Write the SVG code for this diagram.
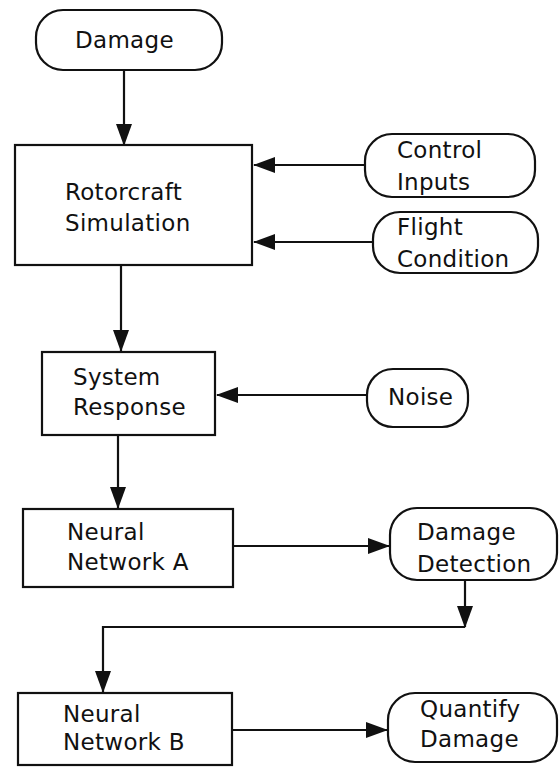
<svg xmlns="http://www.w3.org/2000/svg" width="560" height="767" viewBox="0 0 560 767">
<style>
.box{fill:#fff;stroke:#111;stroke-width:2.2}
.pill{fill:#fff;stroke:#111;stroke-width:2.2}
.lbl{font-family:"DejaVu Sans","Liberation Sans",sans-serif;font-size:23px;letter-spacing:0.3px;fill:#111}
.conn{fill:none;stroke:#111;stroke-width:2.2;marker-end:url(#arr)}
</style>
<defs>
<marker id="arr" markerUnits="userSpaceOnUse" markerWidth="22" markerHeight="17" refX="21" refY="8" orient="auto">
<path d="M0,0 L22,8 L0,16 z" fill="#111"/>
</marker>
</defs>
<rect width="560" height="767" fill="#fff"/>
<g id="connectors">
<line class="conn" x1="124" y1="70" x2="124" y2="145"/>
<line class="conn" x1="365" y1="165" x2="254" y2="165"/>
<line class="conn" x1="373" y1="242" x2="254" y2="242"/>
<line class="conn" x1="121" y1="265" x2="121" y2="351"/>
<line class="conn" x1="367" y1="395" x2="217" y2="395"/>
<line class="conn" x1="118" y1="435" x2="118" y2="508"/>
<line class="conn" x1="233" y1="546" x2="389" y2="546"/>
<line class="conn" x1="465" y1="580" x2="465" y2="627"/>
<polyline class="conn" points="465,627 103,627 103,692"/>
<line class="conn" x1="232" y1="730" x2="387" y2="730"/>
</g>
<g id="damage">
<rect class="pill" x="36" y="10" width="186" height="60" rx="27"/>
<text class="lbl" x="75" y="48">Damage</text>
</g>
<g id="rotorcraft">
<rect class="box" x="15" y="145" width="237" height="120"/>
<text class="lbl" x="65" y="200">Rotorcraft</text>
<text class="lbl" x="65" y="231">Simulation</text>
</g>
<g id="control-inputs">
<rect class="pill" x="365" y="134" width="170" height="63" rx="27"/>
<text class="lbl" x="397" y="158">Control</text>
<text class="lbl" x="397" y="190">Inputs</text>
</g>
<g id="flight-condition">
<rect class="pill" x="373" y="212" width="165" height="61" rx="27"/>
<text class="lbl" x="397" y="235">Flight</text>
<text class="lbl" x="397" y="267">Condition</text>
</g>
<g id="system-response">
<rect class="box" x="42" y="352" width="173" height="83"/>
<text class="lbl" x="73" y="385">System</text>
<text class="lbl" x="73" y="415">Response</text>
</g>
<g id="noise">
<rect class="pill" x="367" y="369" width="101" height="58" rx="26"/>
<text class="lbl" x="388" y="405">Noise</text>
</g>
<g id="neural-a">
<rect class="box" x="23" y="509" width="210" height="78"/>
<text class="lbl" x="67" y="540">Neural</text>
<text class="lbl" x="67" y="570">Network A</text>
</g>
<g id="damage-detection">
<rect class="pill" x="390" y="508" width="167" height="72" rx="27"/>
<text class="lbl" x="417" y="540">Damage</text>
<text class="lbl" x="417" y="572">Detection</text>
</g>
<g id="neural-b">
<rect class="box" x="18" y="693" width="214" height="72"/>
<text class="lbl" x="63" y="722">Neural</text>
<text class="lbl" x="63" y="750">Network B</text>
</g>
<g id="quantify-damage">
<rect class="pill" x="388" y="693" width="169" height="69" rx="27"/>
<text class="lbl" x="420" y="717">Quantify</text>
<text class="lbl" x="420" y="747">Damage</text>
</g>
</svg>
